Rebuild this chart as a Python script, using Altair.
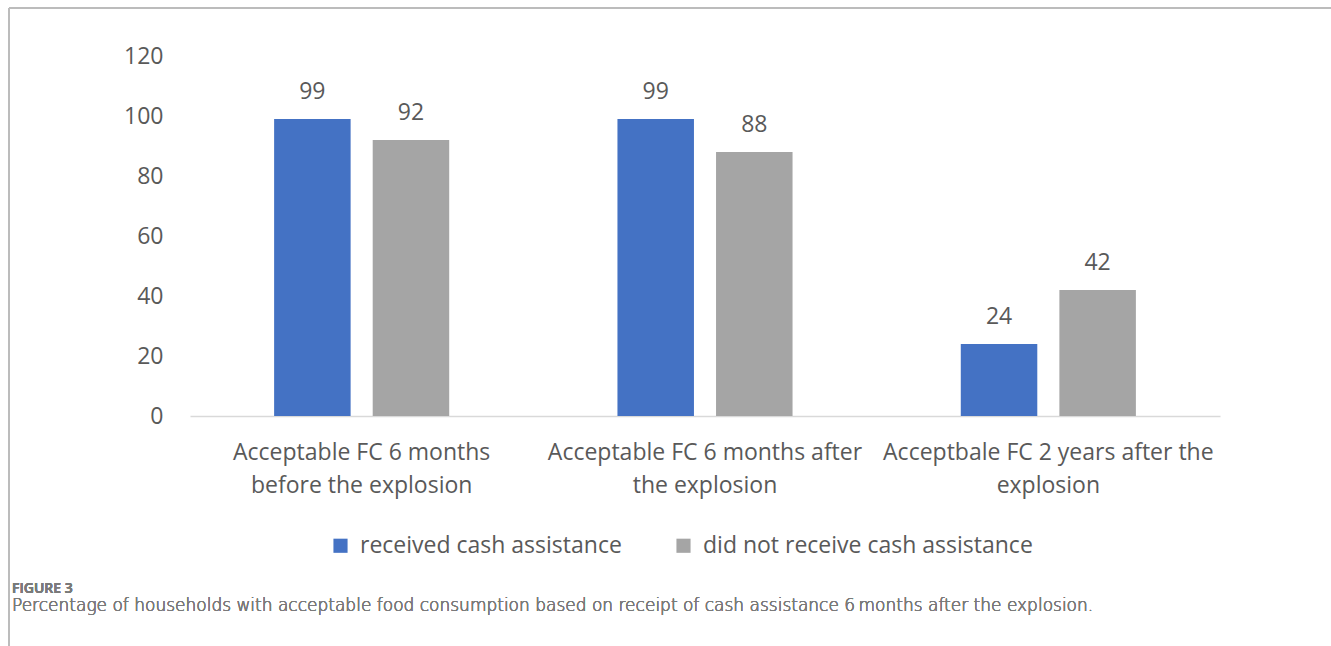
import altair as alt
import pandas as pd

categories = [
    "Acceptable FC 6 months|before the explosion",
    "Acceptable FC 6 months after|the explosion",
    "Acceptbale FC 2 years after the|explosion",
]
series = ["received cash assistance", "did not receive cash assistance"]
received = [99, 99, 24]
not_received = [92, 88, 42]
y_ticks = [0, 20, 40, 60, 80, 100, 120]
colors = ["#4472C4", "#A5A5A5"]

rows = []
for c, a, b in zip(categories, received, not_received):
    rows.append({"cat": c, "series": series[0], "value": a})
    rows.append({"cat": c, "series": series[1], "value": b})
df = pd.DataFrame(rows)

FONT = "Open Sans"
FS = 23
TXT = "#595959"

x_enc = alt.X(
    "cat:N",
    sort=categories,
    scale=alt.Scale(paddingInner=0.49, paddingOuter=0.245),
    axis=alt.Axis(
        title=None,
        labelAngle=0,
        labelExpr="split(datum.label, '|')",
        labelFont=FONT,
        labelFontSize=FS,
        labelColor=TXT,
        labelLineHeight=33,
        labelPadding=25,
        labelLimit=0,
        labelOverlap=False,
        ticks=False,
        domainColor="#D9D9D9",
        domainWidth=1.5,
    ),
)
xoff = alt.XOffset("series:N", sort=series, scale=alt.Scale(paddingInner=0.224, paddingOuter=0))

base = alt.Chart(df)

bars = base.mark_bar().encode(
    x=x_enc,
    xOffset=xoff,
    y=alt.Y(
        "value:Q",
        scale=alt.Scale(domain=[0, 120], nice=False),
        axis=alt.Axis(
            title=None,
            values=y_ticks,
            grid=False,
            domain=False,
            ticks=False,
            labelFont=FONT,
            labelFontSize=FS,
            labelColor=TXT,
            labelPadding=27,
        ),
    ),
    color=alt.Color(
        "series:N",
        sort=series,
        scale=alt.Scale(domain=series, range=colors),
        legend=alt.Legend(
            title=None,
            orient="none",
            legendX=139,
            legendY=478,
            direction="horizontal",
            symbolType="square",
            symbolSize=200,
            symbolStrokeWidth=0,
            labelFont=FONT,
            labelFontSize=FS,
            labelColor=TXT,
            labelOffset=8,
            labelLimit=0,
            columnPadding=50,
        ),
    ),
)

labels = base.mark_text(
    baseline="alphabetic", dy=-20, font=FONT, fontSize=FS, color=TXT
).encode(
    x=alt.X("cat:N", sort=categories),
    xOffset=xoff,
    y="value:Q",
    text="value:Q",
)

frame_top = base.mark_rule(color="#BDBDBD", strokeWidth=1.5).encode(
    x=alt.value(-181), x2=alt.value(1141), y=alt.value(-48)
)
frame_left = base.mark_rule(color="#BDBDBD", strokeWidth=1.5).encode(
    x=alt.value(-181), y=alt.value(-48), y2=alt.value(600)
)

cap1 = base.mark_text(
    align="left", baseline="alphabetic", font="Open Sans", fontSize=14,
    color="#7a7a7a", fontWeight=600
).encode(x=alt.value(-178), y=alt.value(537), text=alt.value("FIGURE 3"))

cap2 = base.mark_text(
    align="left", baseline="alphabetic", font="DejaVu Sans", fontSize=17,
    color="#7a7a7a", fontWeight=200
).encode(
    x=alt.value(-178), y=alt.value(555),
    text=alt.value("Percentage of households with acceptable food consumption based on receipt of cash assistance 6\u2009months after the explosion."),
)

chart = (
    alt.layer(bars, labels, frame_top, frame_left, cap1, cap2)
    .properties(
        width=1030,
        height=360,
        autosize=alt.AutoSizeParams(type="none"),
        padding={"left": 190, "top": 56, "right": 111, "bottom": 230},
        background="white",
    )
    .configure_view(stroke=None)
)

chart.save("out.html", embed_options={"renderer": "svg", "actions": False})
